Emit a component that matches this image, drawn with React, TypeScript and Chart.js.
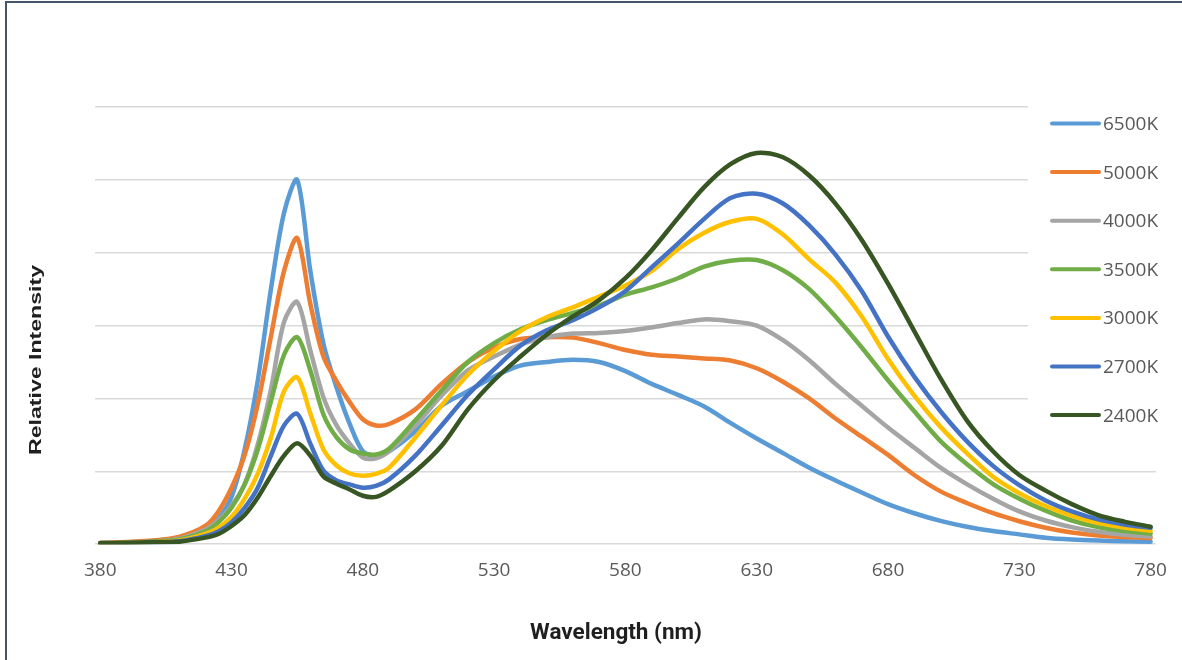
import React, { useEffect, useRef } from 'react';
import { Chart, registerables } from 'chart.js';

Chart.register(...registerables);

const wavelengths = [380, 390, 400, 410, 420, 425, 430, 435, 440, 445, 450, 455, 460, 465, 470, 475, 480, 485, 490, 500, 510, 520, 530, 540, 550, 560, 570, 580, 590, 600, 610, 620, 630, 640, 650, 660, 670, 680, 690, 700, 710, 720, 730, 740, 750, 760, 770, 780];

const xTicks = [380, 430, 480, 530, 580, 630, 680, 730, 780];

const seriesLabels = ['6500K', '5000K', '4000K', '3500K', '3000K', '2700K', '2400K'];
const seriesColors = ['#5b9bd5', '#ed7d31', '#a5a5a5', '#70ad47', '#ffc000', '#4472c4', '#375623'];

const k6500 = [0.003, 0.005, 0.009, 0.018, 0.04, 0.07, 0.13, 0.26, 0.45, 0.70, 0.91, 1.0, 0.75, 0.55, 0.43, 0.33, 0.255, 0.243, 0.255, 0.31, 0.38, 0.42, 0.46, 0.49, 0.5, 0.506, 0.5, 0.475, 0.44, 0.41, 0.378, 0.333, 0.29, 0.25, 0.21, 0.175, 0.142, 0.11, 0.085, 0.064, 0.048, 0.036, 0.027, 0.018, 0.013, 0.01, 0.008, 0.007];
const k5000 = [0.003, 0.006, 0.01, 0.02, 0.05, 0.09, 0.155, 0.245, 0.385, 0.57, 0.75, 0.84, 0.66, 0.515, 0.447, 0.39, 0.343, 0.326, 0.33, 0.37, 0.44, 0.5, 0.54, 0.563, 0.568, 0.567, 0.552, 0.533, 0.52, 0.515, 0.51, 0.504, 0.483, 0.446, 0.4, 0.345, 0.295, 0.245, 0.19, 0.145, 0.113, 0.085, 0.063, 0.045, 0.032, 0.024, 0.02, 0.017];
const k4000 = [0.002, 0.004, 0.008, 0.015, 0.04, 0.065, 0.105, 0.165, 0.274, 0.425, 0.61, 0.665, 0.532, 0.403, 0.326, 0.276, 0.238, 0.236, 0.255, 0.326, 0.408, 0.477, 0.515, 0.548, 0.568, 0.578, 0.58, 0.585, 0.595, 0.607, 0.617, 0.612, 0.6, 0.56, 0.505, 0.44, 0.38, 0.32, 0.265, 0.21, 0.165, 0.125, 0.09, 0.065, 0.047, 0.034, 0.026, 0.021];
const k3500 = [0.002, 0.004, 0.007, 0.013, 0.035, 0.06, 0.1, 0.164, 0.26, 0.392, 0.52, 0.568, 0.477, 0.356, 0.293, 0.26, 0.249, 0.246, 0.262, 0.34, 0.422, 0.5, 0.552, 0.59, 0.615, 0.635, 0.655, 0.685, 0.705, 0.73, 0.762, 0.778, 0.78, 0.752, 0.7, 0.625, 0.54, 0.45, 0.365, 0.283, 0.22, 0.165, 0.125, 0.092, 0.065, 0.047, 0.036, 0.029];
const k3000 = [0.002, 0.003, 0.006, 0.01, 0.028, 0.045, 0.075, 0.125, 0.194, 0.293, 0.42, 0.458, 0.359, 0.26, 0.216, 0.194, 0.188, 0.193, 0.21, 0.293, 0.381, 0.465, 0.53, 0.585, 0.623, 0.65, 0.68, 0.71, 0.75, 0.81, 0.855, 0.885, 0.893, 0.85, 0.782, 0.718, 0.625, 0.508, 0.408, 0.322, 0.25, 0.185, 0.14, 0.105, 0.078, 0.058, 0.046, 0.037];
const k2700 = [0.001, 0.002, 0.004, 0.008, 0.022, 0.035, 0.06, 0.1, 0.155, 0.243, 0.326, 0.358, 0.276, 0.202, 0.175, 0.164, 0.155, 0.16, 0.178, 0.243, 0.326, 0.41, 0.48, 0.545, 0.587, 0.615, 0.65, 0.695, 0.76, 0.825, 0.893, 0.95, 0.962, 0.935, 0.875, 0.795, 0.695, 0.57, 0.46, 0.365, 0.283, 0.215, 0.162, 0.12, 0.09, 0.068, 0.054, 0.045];
const k2400 = [0.003, 0.004, 0.006, 0.007, 0.018, 0.028, 0.05, 0.08, 0.128, 0.188, 0.243, 0.277, 0.243, 0.186, 0.166, 0.15, 0.133, 0.13, 0.147, 0.2, 0.27, 0.37, 0.45, 0.515, 0.575, 0.625, 0.67, 0.73, 0.807, 0.895, 0.98, 1.043, 1.074, 1.062, 1.012, 0.935, 0.835, 0.715, 0.585, 0.455, 0.34, 0.255, 0.19, 0.147, 0.11, 0.08, 0.062, 0.048];

const seriesValues = [k6500, k5000, k4000, k3500, k3000, k2700, k2400];

const xTitle = 'Wavelength (nm)';
const yTitle = 'Relative Intensity';

const overlayPlugin = {
  id: 'overlay',
  beforeDatasetsDraw(chart: any) {
    const ctx = chart.ctx;
    ctx.save();
    ctx.fillStyle = '#ffffff';
    ctx.fillRect(1028, 98, 154, 348);
    ctx.restore();
  },
  afterDraw(chart: any) {
    const ctx = chart.ctx;
    ctx.save();
    chart.data.datasets.forEach((ds: any, i: number) => {
      const y = 123.5 + i * 48.6;
      ctx.strokeStyle = ds.borderColor;
      ctx.lineWidth = 4;
      ctx.lineCap = 'round';
      ctx.beginPath();
      ctx.moveTo(1052, y);
      ctx.lineTo(1099, y);
      ctx.stroke();
      ctx.fillStyle = '#595959';
      ctx.font = '19px "Open Sans", sans-serif';
      ctx.textAlign = 'left';
      ctx.textBaseline = 'middle';
      ctx.fillText(ds.label, 1103, y + 1);
    });
    ctx.fillStyle = '#1f1f1f';
    ctx.font = 'bold 22.5px Roboto, sans-serif';
    ctx.textAlign = 'center';
    ctx.textBaseline = 'middle';
    ctx.fillText(xTitle, 616, 633);
    ctx.font = 'bold 17px "Liberation Sans", Arial, sans-serif';
    const w = ctx.measureText(yTitle).width;
    ctx.translate(36, 360);
    ctx.rotate(-Math.PI / 2);
    ctx.scale(190 / w, 1);
    ctx.fillText(yTitle, 0, 0);
    ctx.restore();
  },
};

export default function App() {
  const ref = useRef<HTMLCanvasElement>(null);

  useEffect(() => {
    const canvas = ref.current;
    if (!canvas) return;
    const chart = new Chart(canvas, {
      type: 'line',
      data: {
        datasets: seriesLabels.map((label, i) => ({
          label,
          data: wavelengths.map((x, j) => ({ x, y: seriesValues[i][j] })),
          borderColor: seriesColors[i],
          backgroundColor: seriesColors[i],
          borderWidth: 4.5,
          pointRadius: 0,
          pointHoverRadius: 0,
          fill: false,
          tension: 0.3,
          borderCapStyle: 'round' as const,
          borderJoinStyle: 'round' as const,
          order: seriesLabels.length - i,
        })),
      },
      options: {
        responsive: false,
        animation: false,
        devicePixelRatio: 1,
        layout: { padding: { left: 95, right: 24, top: 107, bottom: 63 } },
        scales: {
          x: {
            type: 'linear',
            min: 378,
            max: 782,
            afterBuildTicks: (axis: any) => {
              axis.ticks = xTicks.map((v) => ({ value: v }));
            },
            grid: { display: false, drawTicks: false },
            border: { display: false },
            ticks: {
              color: '#595959',
              font: { family: '"Open Sans", sans-serif', size: 19 },
              padding: 15,
              maxRotation: 0,
              autoSkip: false,
              callback: (v: any) => String(v),
            },
          },
          y: {
            min: 0,
            max: 1.2,
            ticks: { display: false, stepSize: 0.2 },
            grid: { color: '#d9d9d9', lineWidth: 1.5, drawTicks: false },
            border: { display: false },
          },
        },
        plugins: {
          legend: { display: false },
          tooltip: { enabled: false },
        },
      },
      plugins: [overlayPlugin],
    });
    return () => chart.destroy();
  }, []);

  return (
    <div style={{ position: 'absolute', left: 0, top: 0, width: 1182, height: 660, background: '#ffffff', overflow: 'hidden' }}>
      <canvas ref={ref} width={1182} height={660} style={{ position: 'absolute', left: 0, top: 0, width: 1182, height: 660 }} />
      <div style={{ position: 'absolute', left: 5, top: 1, right: 0, bottom: 0, borderTop: '2px solid #44546a', borderLeft: '2px solid #44546a', pointerEvents: 'none' }} />
    </div>
  );
}
